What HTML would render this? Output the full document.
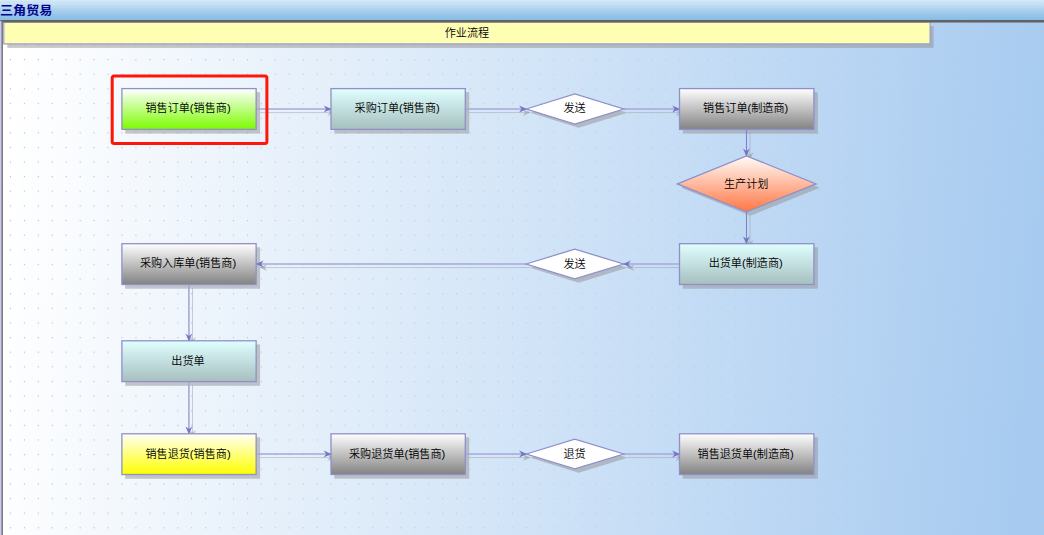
<!DOCTYPE html>
<html lang="zh-CN"><head><meta charset="utf-8"><title>三角贸易</title>
<style>
html,body{margin:0;padding:0;width:1044px;height:535px;overflow:hidden;background:#fff}
svg{display:block;position:absolute;left:0;top:0}
text{font-family:"Liberation Sans", "Noto Sans CJK SC", sans-serif;}
.t{font-size:11.12px;font-weight:350;fill:#000;text-anchor:middle}
</style></head><body>
<svg width="1044" height="535" viewBox="0 0 1044 535">
<defs>
<linearGradient id="gTitle" x1="0" y1="0" x2="0" y2="1">
<stop offset="0" stop-color="#d6f0f8"/><stop offset="0.06" stop-color="#cfe4f5"/><stop offset="0.2" stop-color="#c6e1f6"/><stop offset="0.45" stop-color="#afd3ee"/><stop offset="0.7" stop-color="#9bc7e9"/><stop offset="1" stop-color="#86bce5"/>
</linearGradient>
<linearGradient id="gBg" gradientUnits="userSpaceOnUse" x1="0" y1="240" x2="1044" y2="330">
<stop offset="0" stop-color="#ffffff"/><stop offset="1" stop-color="#a6caf0"/>
</linearGradient>
<linearGradient id="green" x1="0" y1="0" x2="0" y2="1"><stop offset="0" stop-color="#ffffff"/><stop offset="1" stop-color="#7cfc00"/></linearGradient>
<linearGradient id="cyan" x1="0" y1="0" x2="0" y2="1"><stop offset="0" stop-color="#e0ffff"/><stop offset="1" stop-color="#a6bfbf"/></linearGradient>
<linearGradient id="grey" x1="0" y1="0" x2="0" y2="1"><stop offset="0" stop-color="#ffffff"/><stop offset="1" stop-color="#828282"/></linearGradient>
<linearGradient id="yellow" x1="0" y1="0" x2="0" y2="1"><stop offset="0" stop-color="#fffff6"/><stop offset="1" stop-color="#ffff00"/></linearGradient>
<linearGradient id="pink" x1="0" y1="0" x2="0" y2="1"><stop offset="0" stop-color="#fffcf8"/><stop offset="1" stop-color="#ff7644"/></linearGradient>
<linearGradient id="white" x1="0" y1="0" x2="0" y2="1"><stop offset="0" stop-color="#ffffff"/><stop offset="1" stop-color="#ffffff"/></linearGradient>
<pattern id="dots" patternUnits="userSpaceOnUse" x="2.95" y="8.3" width="13.943" height="14.63">
<rect x="7" y="7" width="1" height="1" fill="#ffffff"/>
</pattern>
<mask id="dotMask" maskUnits="userSpaceOnUse" x="0" y="0" width="1044" height="535"><rect x="3" y="22" width="1041" height="513" fill="url(#dots)"/></mask>
<linearGradient id="gDot" gradientUnits="userSpaceOnUse" x1="0" y1="0" x2="1044" y2="0">
<stop offset="0" stop-color="#9c9c9c"/><stop offset="0.3" stop-color="#b0b0b2" stop-opacity="0.9"/><stop offset="0.5" stop-color="#bcb6b2" stop-opacity="0.8"/><stop offset="0.75" stop-color="#c8b8b0" stop-opacity="0.7"/><stop offset="1" stop-color="#ccb8b0" stop-opacity="0.65"/>
</linearGradient>
</defs>

<rect x="0" y="0" width="1044" height="535" fill="url(#gBg)"/>
<rect x="3" y="22" width="1041" height="513" fill="url(#gDot)" mask="url(#dotMask)" opacity="0.9"/>
<rect x="0" y="0" width="1044" height="20.2" fill="url(#gTitle)"/>
<rect x="0" y="20.1" width="1044" height="2.1" fill="#626262"/>
<rect x="0" y="21" width="1.4" height="514" fill="#c8c8ff"/>
<rect x="1.4" y="21" width="1.5" height="514" fill="#6e6e6e"/>
<text transform="translate(0,14.5) scale(1.01,0.95)" x="0" y="0" font-size="13" font-weight="bold" fill="#04048e">三角贸易</text>
<rect x="7.3" y="26.1" width="926.3" height="21.8" fill="rgba(146,146,146,0.5)"/>
<rect x="3.8" y="22.4" width="926.3" height="21.5" fill="#ffffb3" stroke="#9c9ccc" stroke-width="1.2"/>
<rect x="4" y="22.2" width="926" height="0.8" fill="#b8b8a0"/>
<rect x="3" y="20.1" width="1041" height="2.3" fill="#626262"/>
<text class="t" x="466.9" y="36.6">作业流程</text>
<rect x="125.20" y="92.20" width="134.85" height="41.40" fill="rgba(146,146,146,0.5)"/>
<rect x="334.30" y="92.20" width="134.90" height="41.40" fill="rgba(146,146,146,0.5)"/>
<rect x="682.80" y="92.20" width="135.00" height="41.40" fill="rgba(146,146,146,0.5)"/>
<rect x="682.80" y="247.30" width="135.00" height="41.40" fill="rgba(146,146,146,0.5)"/>
<rect x="125.20" y="247.30" width="134.85" height="41.40" fill="rgba(146,146,146,0.5)"/>
<rect x="125.20" y="344.40" width="134.85" height="41.40" fill="rgba(146,146,146,0.5)"/>
<rect x="125.20" y="437.40" width="134.85" height="41.30" fill="rgba(146,146,146,0.5)"/>
<rect x="334.30" y="437.40" width="134.90" height="41.30" fill="rgba(146,146,146,0.5)"/>
<rect x="682.80" y="437.40" width="135.00" height="41.30" fill="rgba(146,146,146,0.5)"/>
<polygon points="530.20,112.80 578.60,97.80 627.50,112.80 578.60,127.80" fill="rgba(146,146,146,0.5)"/>
<polygon points="530.00,267.80 578.60,252.90 627.30,267.80 578.60,282.70" fill="rgba(146,146,146,0.5)"/>
<polygon points="530.20,457.80 578.60,442.90 627.50,457.80 578.60,472.70" fill="rgba(146,146,146,0.5)"/>
<polygon points="681.20,187.70 750.30,159.70 819.80,187.70 750.30,215.70" fill="rgba(146,146,146,0.5)"/>
<line x1="259.90" y1="112.60" x2="334.60" y2="112.60" stroke="rgba(146,146,146,0.5)" stroke-width="0.85"/>
<polygon points="335.10,112.60 327.30,116.00 329.70,112.60 327.30,109.20" fill="rgba(146,146,146,0.5)"/>
<line x1="468.90" y1="112.60" x2="530.00" y2="112.60" stroke="rgba(146,146,146,0.5)" stroke-width="0.85"/>
<polygon points="530.50,112.60 522.70,116.00 525.10,112.60 522.70,109.20" fill="rgba(146,146,146,0.5)"/>
<line x1="627.30" y1="112.60" x2="683.10" y2="112.60" stroke="rgba(146,146,146,0.5)" stroke-width="0.85"/>
<polygon points="683.60,112.60 675.80,116.00 678.20,112.60 675.80,109.20" fill="rgba(146,146,146,0.5)"/>
<line x1="750.00" y1="133.00" x2="750.00" y2="159.50" stroke="rgba(146,146,146,0.5)" stroke-width="0.85"/>
<polygon points="750.00,160.00 746.60,152.20 750.00,154.60 753.40,152.20" fill="rgba(146,146,146,0.5)"/>
<line x1="750.00" y1="215.50" x2="750.00" y2="247.30" stroke="rgba(146,146,146,0.5)" stroke-width="0.85"/>
<polygon points="750.00,247.80 746.60,240.00 750.00,242.40 753.40,240.00" fill="rgba(146,146,146,0.5)"/>
<line x1="683.10" y1="267.60" x2="627.10" y2="267.60" stroke="rgba(146,146,146,0.5)" stroke-width="0.85"/>
<polygon points="626.60,267.60 634.40,264.20 632.00,267.60 634.40,271.00" fill="rgba(146,146,146,0.5)"/>
<line x1="529.80" y1="267.60" x2="259.90" y2="267.60" stroke="rgba(146,146,146,0.5)" stroke-width="0.85"/>
<polygon points="259.40,267.60 267.20,264.20 264.80,267.60 267.20,271.00" fill="rgba(146,146,146,0.5)"/>
<line x1="192.50" y1="288.10" x2="192.50" y2="344.40" stroke="rgba(146,146,146,0.5)" stroke-width="0.85"/>
<polygon points="192.50,344.90 189.10,337.10 192.50,339.50 195.90,337.10" fill="rgba(146,146,146,0.5)"/>
<line x1="192.50" y1="385.20" x2="192.50" y2="437.40" stroke="rgba(146,146,146,0.5)" stroke-width="0.85"/>
<polygon points="192.50,437.90 189.10,430.10 192.50,432.50 195.90,430.10" fill="rgba(146,146,146,0.5)"/>
<line x1="259.90" y1="457.60" x2="334.60" y2="457.60" stroke="rgba(146,146,146,0.5)" stroke-width="0.85"/>
<polygon points="335.10,457.60 327.30,461.00 329.70,457.60 327.30,454.20" fill="rgba(146,146,146,0.5)"/>
<line x1="468.90" y1="457.60" x2="530.00" y2="457.60" stroke="rgba(146,146,146,0.5)" stroke-width="0.85"/>
<polygon points="530.50,457.60 522.70,461.00 525.10,457.60 522.70,454.20" fill="rgba(146,146,146,0.5)"/>
<line x1="627.30" y1="457.60" x2="683.10" y2="457.60" stroke="rgba(146,146,146,0.5)" stroke-width="0.85"/>
<polygon points="683.60,457.60 675.80,461.00 678.20,457.60 675.80,454.20" fill="rgba(146,146,146,0.5)"/>
<line x1="256.30" y1="109.00" x2="331.00" y2="109.00" stroke="#a6a8da" stroke-width="1.6"/>
<line x1="465.30" y1="109.00" x2="526.40" y2="109.00" stroke="#a6a8da" stroke-width="1.6"/>
<line x1="623.70" y1="109.00" x2="679.50" y2="109.00" stroke="#a6a8da" stroke-width="1.6"/>
<line x1="746.50" y1="129.40" x2="746.50" y2="155.90" stroke="#8282ca" stroke-width="1.1"/>
<line x1="746.50" y1="211.90" x2="746.50" y2="243.70" stroke="#8282ca" stroke-width="1.1"/>
<line x1="679.50" y1="264.00" x2="623.50" y2="264.00" stroke="#a6a8da" stroke-width="1.6"/>
<line x1="526.20" y1="264.00" x2="256.30" y2="264.00" stroke="#a6a8da" stroke-width="1.6"/>
<line x1="188.90" y1="284.50" x2="188.90" y2="340.80" stroke="#a6a8da" stroke-width="1.6"/>
<line x1="188.90" y1="381.60" x2="188.90" y2="433.80" stroke="#a6a8da" stroke-width="1.6"/>
<line x1="256.30" y1="454.00" x2="331.00" y2="454.00" stroke="#a6a8da" stroke-width="1.6"/>
<line x1="465.30" y1="454.00" x2="526.40" y2="454.00" stroke="#a6a8da" stroke-width="1.6"/>
<line x1="623.70" y1="454.00" x2="679.50" y2="454.00" stroke="#a6a8da" stroke-width="1.6"/>
<rect x="121.90" y="88.60" width="134.25" height="40.80" fill="url(#green)" stroke="#9090c8" stroke-width="1.3"/>
<text class="t" x="188.03" y="112">销售订单(销售商)</text>
<rect x="331.00" y="88.60" width="134.30" height="40.80" fill="url(#cyan)" stroke="#9090c8" stroke-width="1.3"/>
<text class="t" x="397.15" y="112">采购订单(销售商)</text>
<rect x="679.50" y="88.60" width="134.40" height="40.80" fill="url(#grey)" stroke="#9090c8" stroke-width="1.3"/>
<text class="t" x="745.70" y="112">销售订单(制造商)</text>
<rect x="679.50" y="243.70" width="134.40" height="40.80" fill="url(#cyan)" stroke="#9090c8" stroke-width="1.3"/>
<text class="t" x="745.70" y="267">出货单(制造商)</text>
<rect x="121.90" y="243.70" width="134.25" height="40.80" fill="url(#grey)" stroke="#9090c8" stroke-width="1.3"/>
<text class="t" x="188.03" y="267">采购入库单(销售商)</text>
<rect x="121.90" y="340.80" width="134.25" height="40.80" fill="url(#cyan)" stroke="#9090c8" stroke-width="1.3"/>
<text class="t" x="188.03" y="365">出货单</text>
<rect x="121.90" y="433.80" width="134.25" height="40.70" fill="url(#yellow)" stroke="#9090c8" stroke-width="1.3"/>
<text class="t" x="188.03" y="458">销售退货(销售商)</text>
<rect x="331.00" y="433.80" width="134.30" height="40.70" fill="url(#grey)" stroke="#9090c8" stroke-width="1.3"/>
<text class="t" x="397.15" y="458">采购退货单(销售商)</text>
<rect x="679.50" y="433.80" width="134.40" height="40.70" fill="url(#grey)" stroke="#9090c8" stroke-width="1.3"/>
<text class="t" x="745.70" y="458">销售退货单(制造商)</text>
<polygon points="526.40,109.00 574.80,94.00 623.70,109.00 574.80,124.00" fill="url(#white)" stroke="#9090c8" stroke-width="1.3"/>
<text class="t" x="574.50" y="112">发送</text>
<polygon points="526.20,264.00 574.80,249.10 623.50,264.00 574.80,278.90" fill="url(#white)" stroke="#9090c8" stroke-width="1.3"/>
<text class="t" x="574.50" y="268">发送</text>
<polygon points="526.40,454.00 574.80,439.10 623.70,454.00 574.80,468.90" fill="url(#white)" stroke="#9090c8" stroke-width="1.3"/>
<text class="t" x="574.50" y="458">退货</text>
<polygon points="677.40,183.90 746.50,155.90 816.00,183.90 746.50,211.90" fill="url(#pink)" stroke="#9090c8" stroke-width="1.3"/>
<text class="t" x="746.20" y="188">生产计划</text>
<polygon points="331.50,109.00 323.70,112.40 326.10,109.00 323.70,105.60" fill="#7676c6"/>
<polygon points="526.90,109.00 519.10,112.40 521.50,109.00 519.10,105.60" fill="#7676c6"/>
<polygon points="680.00,109.00 672.20,112.40 674.60,109.00 672.20,105.60" fill="#7676c6"/>
<polygon points="746.40,156.40 743.00,148.60 746.40,151.00 749.80,148.60" fill="#7676c6"/>
<polygon points="746.40,244.20 743.00,236.40 746.40,238.80 749.80,236.40" fill="#7676c6"/>
<polygon points="623.00,264.00 630.80,260.60 628.40,264.00 630.80,267.40" fill="#7676c6"/>
<polygon points="255.80,264.00 263.60,260.60 261.20,264.00 263.60,267.40" fill="#7676c6"/>
<polygon points="188.90,341.30 185.50,333.50 188.90,335.90 192.30,333.50" fill="#7676c6"/>
<polygon points="188.90,434.30 185.50,426.50 188.90,428.90 192.30,426.50" fill="#7676c6"/>
<polygon points="331.50,454.00 323.70,457.40 326.10,454.00 323.70,450.60" fill="#7676c6"/>
<polygon points="526.90,454.00 519.10,457.40 521.50,454.00 519.10,450.60" fill="#7676c6"/>
<polygon points="680.00,454.00 672.20,457.40 674.60,454.00 672.20,450.60" fill="#7676c6"/>
<rect x="112.2" y="75.9" width="154.7" height="67.7" rx="2" ry="2" fill="none" stroke="#ff1608" stroke-width="3"/>
</svg></body></html>
